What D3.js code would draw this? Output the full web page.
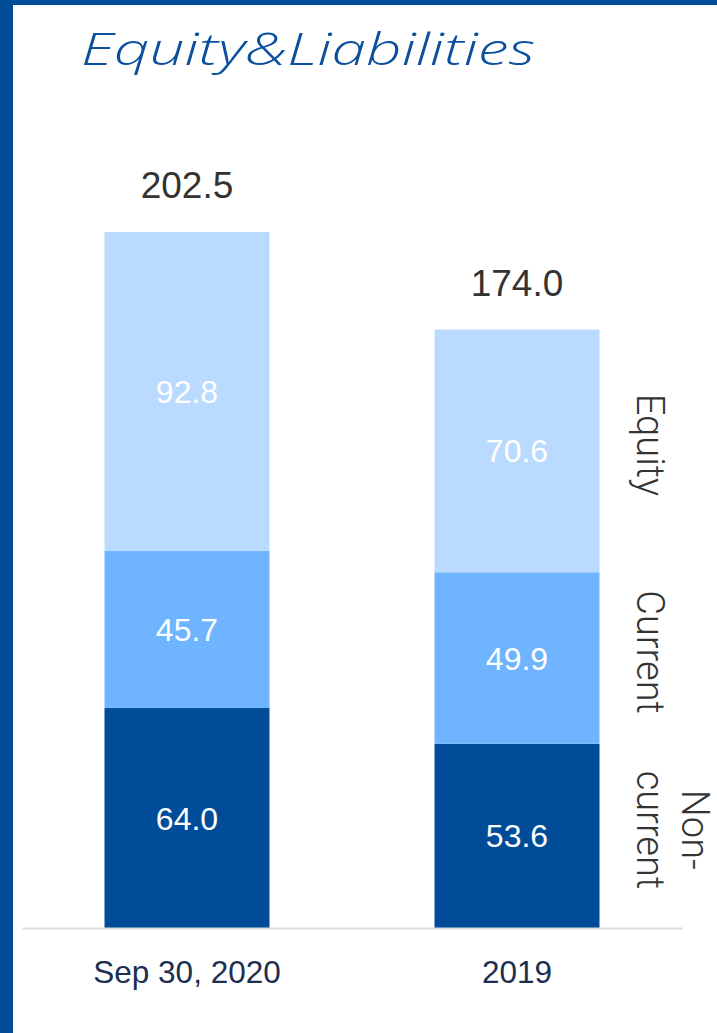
<!DOCTYPE html>
<html>
<head>
<meta charset="utf-8">
<script src="https://cdn.jsdelivr.net/npm/d3@7"></script>
<style>
  html, body { margin: 0; padding: 0; background: #fff; }
  svg { display: block; }
</style>
</head>
<body>
<svg id="chart" width="717" height="1033"></svg>
<script>
// Balance-sheet composition, equity and liabilities (values in millions)
const categories = ["Sep 30, 2020", "2019"];
const nonCurrent = [64.0, 53.6];
const current = [45.7, 49.9];
const equity = [92.8, 70.6];
const totals = [202.5, 174.0];
const seriesNames = ["Non-current", "Current", "Equity"];
const seriesLabelLines = [["Non-", "current"], ["Current"], ["Equity"]];
const seriesColors = ["#004c99", "#6eb4ff", "#badbff"];

const W = 717, H = 1033;
const svg = d3.select("#chart");
const sans = "'Liberation Sans', Arial, sans-serif";

// frame accents
svg.append("rect").attr("x", 0).attr("y", 0).attr("width", W).attr("height", 5).attr("fill", "#004c99");
svg.append("rect").attr("x", 0).attr("y", 0).attr("width", 13).attr("height", H).attr("fill", "#004c99");

// title
svg.append("text")
  .attr("x", 81).attr("y", 65)
  .attr("font-family", "'Open Sans', 'Noto Sans', sans-serif")
  .attr("font-style", "italic")
  .attr("font-weight", 300)
  .attr("font-size", 45)
  .attr("fill", "#0b4f9f")
  .attr("textLength", 454)
  .attr("lengthAdjust", "spacingAndGlyphs")
  .text("Equity&Liabilities");

const baseline = 928;
const x = d3.scaleBand().domain(categories).range([22, 682]).paddingInner(0.5).paddingOuter(0.25);
const y = d3.scaleLinear().domain([0, 202.5]).range([baseline, 232]);

const rows = categories.map((c, i) => ({ cat: c, "Non-current": nonCurrent[i], "Current": current[i], "Equity": equity[i] }));
const stack = d3.stack().keys(seriesNames)(rows);

const g = svg.append("g");
stack.forEach((layer, li) => {
  g.selectAll(null).data(layer).enter().append("rect")
    .attr("x", d => x(d.data.cat))
    .attr("y", d => y(d[1]))
    .attr("width", x.bandwidth())
    .attr("height", d => y(d[0]) - y(d[1]))
    .attr("fill", seriesColors[li]);
  g.selectAll(null).data(layer).enter().append("text")
    .attr("x", d => x(d.data.cat) + x.bandwidth() / 2)
    .attr("y", d => (y(d[0]) + y(d[1])) / 2)
    .attr("dy", "0.36em")
    .attr("text-anchor", "middle")
    .attr("font-family", sans)
    .attr("font-size", 32)
    .attr("fill", "#ffffff")
    .text(d => (d[1] - d[0]).toFixed(1));
});

// totals above bars
g.selectAll(null).data(categories).enter().append("text")
  .attr("x", c => x(c) + x.bandwidth() / 2)
  .attr("y", (c, i) => y(totals[i]) - 34)
  .attr("text-anchor", "middle")
  .attr("font-family", sans)
  .attr("font-size", 37)
  .attr("fill", "#333333")
  .text((c, i) => totals[i].toFixed(1));

// x axis
const xAxis = d3.axisBottom(x).tickSize(0).tickPadding(33);
const ax = svg.append("g").attr("transform", `translate(0,${baseline})`).call(xAxis);
ax.select(".domain").attr("stroke", "#dcdcdc").attr("stroke-width", 2);
ax.selectAll(".tick text")
  .attr("font-family", sans)
  .attr("font-size", 31.5)
  .attr("fill", "#1c2f52")
  .attr("dy", "0.71em");

// rotated series labels beside the last bar
const last = stack.map(layer => layer[layer.length - 1]);
const labelX = 650;
last.forEach((d, li) => {
  const lines = seriesLabelLines[li];
  const cy = (y(d[0]) + y(d[1])) / 2 - 6;
  const t = svg.append("text")
    .attr("transform", `translate(${labelX},${cy}) rotate(90)`)
    .attr("text-anchor", "middle")
    .attr("font-family", "Roboto, 'Liberation Sans', sans-serif")
    .attr("font-weight", 300)
    .attr("font-size", 38)
    .attr("fill", "#333333");
  lines.forEach((ln, k) => {
    t.append("tspan")
      .attr("x", 0)
      .attr("y", 0)
      .attr("dy", (0.35 - (lines.length - 1 - k) * 1.18) + "em")
      .text(ln);
  });
});
</script>
</body>
</html>
